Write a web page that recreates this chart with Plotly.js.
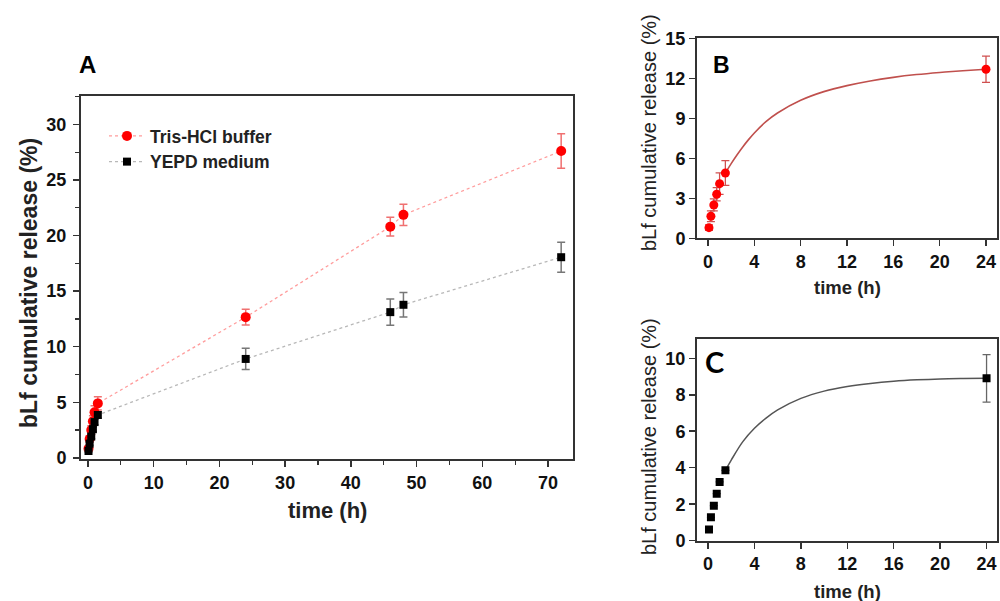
<!DOCTYPE html>
<html><head><meta charset="utf-8">
<script src="https://cdn.plot.ly/plotly-3.0.1.min.js"></script>
<style>html,body{margin:0;padding:0;background:#fff}#chart{width:1000px;height:601px}</style>
</head><body><div id="chart"></div>
<script>
// ---- data ----
const timeA = [0.083, 0.25, 0.5, 0.75, 1, 1.5, 24, 46, 48, 72];
const trisA = [0.83, 1.70, 2.50, 3.30, 4.10, 4.90, 12.66, 20.80, 21.86, 27.60];
const trisErrA = [0.2, 0.3, 0.4, 0.5, 0.6, 0.6, 0.7, 0.85, 0.95, 1.55];
const yepdA = [0.62, 1.28, 1.92, 2.58, 3.22, 3.86, 8.90, 13.11, 13.77, 18.05];
const yepdErrA = [0.1, 0.15, 0.2, 0.2, 0.25, 0.3, 0.96, 1.18, 1.1, 1.35];

const timeB = [0.083, 0.25, 0.5, 0.75, 1, 1.5, 24];
const trisB = [0.80, 1.65, 2.50, 3.30, 4.10, 4.90, 12.68];
const trisErrB = [0.2, 0.4, 0.45, 0.5, 0.8, 0.93, 0.98];
const fitTimeB = [1.5, 2, 2.5, 3, 3.5, 4, 5, 6, 8, 10, 12, 14, 16, 18, 20, 22, 24];
const fitB = [4.9, 5.6, 6.25, 6.85, 7.4, 7.9, 8.75, 9.4, 10.35, 11.0, 11.45, 11.8, 12.07, 12.28, 12.44, 12.57, 12.68];

const timeC = [0.083, 0.25, 0.5, 0.75, 1, 1.5, 24];
const yepdC = [0.62, 1.28, 1.92, 2.58, 3.22, 3.86, 8.90];
const yepdErrC = [0, 0, 0, 0, 0, 0, 1.3];
const fitTimeC = [1.5, 2, 3, 4, 5, 6, 8, 10, 12, 14, 16, 18, 20, 22, 24];
const fitC = [3.86, 4.42, 5.43, 6.16, 6.72, 7.17, 7.8, 8.2, 8.45, 8.62, 8.74, 8.82, 8.87, 8.89, 8.9];

const ticksAx = [0, 10, 20, 30, 40, 50, 60, 70];
const ticksAy = [0, 5, 10, 15, 20, 25, 30];
const ticksBCx = [0, 4, 8, 12, 16, 20, 24];
const ticksBy = [0, 3, 6, 9, 12, 15];
const ticksCy = [0, 2, 4, 6, 8, 10];

const legendNames = ["Tris-HCl buffer", "YEPD medium"];
const yTitle = "bLf cumulative release (%)";
const xTitle = "time (h)";

// ---- helpers ----
const W = 1000, H = 601;
const px = v => v / W, py = v => 1 - v / H;
const F = "Liberation Sans, Arial, sans-serif";
const bold = arr => arr.map(v => '<b>' + v + '</b>');

const traces = [
  {x: timeA, y: trisA, name: legendNames[0], type: 'scatter', mode: 'lines+markers', xaxis: 'x', yaxis: 'y',
   line: {color: '#ff9c9c', width: 1.3, dash: 'dot'},
   marker: {color: '#ff0000', size: 10, symbol: 'circle'},
   error_y: {type: 'data', array: trisErrA, visible: true, color: '#f07070', thickness: 1.5, width: 4}},
  {x: timeA, y: yepdA, name: legendNames[1], type: 'scatter', mode: 'lines+markers', xaxis: 'x', yaxis: 'y',
   line: {color: '#b8b8b8', width: 1.3, dash: 'dot'},
   marker: {color: '#000000', size: 8, symbol: 'square'},
   error_y: {type: 'data', array: yepdErrA, visible: true, color: '#777777', thickness: 1.5, width: 4}},
  {x: fitTimeB, y: fitB, type: 'scatter', mode: 'lines', xaxis: 'x2', yaxis: 'y2', showlegend: false,
   line: {color: '#c0504d', width: 1.6, shape: 'spline'}},
  {x: timeB, y: trisB, type: 'scatter', mode: 'markers', xaxis: 'x2', yaxis: 'y2', showlegend: false,
   marker: {color: '#ff0000', size: 9, symbol: 'circle'},
   error_y: {type: 'data', array: trisErrB, visible: true, color: '#d05050', thickness: 1.3, width: 4}},
  {x: fitTimeC, y: fitC, type: 'scatter', mode: 'lines', xaxis: 'x3', yaxis: 'y3', showlegend: false,
   line: {color: '#555555', width: 1.5, shape: 'spline'}},
  {x: timeC, y: yepdC, type: 'scatter', mode: 'markers', xaxis: 'x3', yaxis: 'y3', showlegend: false,
   marker: {color: '#000000', size: 8, symbol: 'square'},
   error_y: {type: 'data', array: yepdErrC, visible: true, color: '#666666', thickness: 1.3, width: 4}}
];

const tf = {family: F, size: 18, color: '#111', weight: 'bold'};
function ax(extra) {
  return Object.assign({
    showline: true, mirror: true, linecolor: '#333', linewidth: 2,
    ticks: 'outside', ticklen: 6, tickwidth: 1.5, tickcolor: '#333',
    showgrid: false, zeroline: false, fixedrange: true, tickmode: 'array',
    tickfont: tf
  }, extra);
}

const layout = {
  width: W, height: H, margin: {l: 0, r: 0, t: 0, b: 0},
  paper_bgcolor: '#fff', plot_bgcolor: '#fff', showlegend: true,
  xaxis: ax({domain: [px(81), px(573)], range: [-1.06, 73.8], tickvals: ticksAx, ticktext: bold(ticksAx), anchor: 'y',
    minor: {ticks: 'outside', ticklen: 4, tickwidth: 1.3, tickcolor: '#333', dtick: 5, tick0: 0}}),
  yaxis: ax({domain: [py(459), py(96)], range: [-0.1, 32.55], tickvals: ticksAy, ticktext: bold(ticksAy), anchor: 'x', ticklabelstandoff: 3,
    minor: {ticks: 'outside', ticklen: 4, tickwidth: 1.3, tickcolor: '#333', dtick: 2.5, tick0: 0}}),
  xaxis2: ax({domain: [px(697), px(997)], range: [-0.95, 24.95], tickvals: ticksBCx, ticktext: bold(ticksBCx), anchor: 'y2'}),
  yaxis2: ax({domain: [py(238.3), py(38.3)], range: [0, 15], tickvals: ticksBy, ticktext: bold(ticksBy), anchor: 'x2'}),
  xaxis3: ax({domain: [px(697), px(997)], range: [-0.95, 24.9], tickvals: ticksBCx, ticktext: bold(ticksBCx), anchor: 'y3'}),
  yaxis3: ax({domain: [py(540.7), py(339.3)], range: [0, 11.04], tickvals: ticksCy, ticktext: bold(ticksCy), anchor: 'x3'}),
  legend: {x: px(104), y: py(118), xanchor: 'left', yanchor: 'top', bgcolor: 'rgba(0,0,0,0)',
    itemwidth: 36, font: {family: F, size: 17.5, color: '#222', weight: 'bold'}, tracegroupgap: 0},
  annotations: [
    {text: '<b>A</b>', x: 87, y: 64, size: 24, color: '#000'},
    {text: '<b>B</b>', x: 721, y: 65, size: 23, color: '#000'},
    {text: '<b>C</b>', x: 714, y: 361, size: 29, color: '#000', family: 'Lato, sans-serif'},
    {text: '<b>' + yTitle + '</b>', x: 29, y: 283, angle: -90, size: 23},
    {text: '<b>' + xTitle + '</b>', x: 327, y: 510, size: 22},
    {text: yTitle, x: 649, y: 133, angle: -90, size: 20},
    {text: '<b>' + xTitle + '</b>', x: 847, y: 287, size: 18.5},
    {text: yTitle, x: 649, y: 437, angle: -90, size: 20},
    {text: '<b>' + xTitle + '</b>', x: 847, y: 591, size: 18.5}
  ].map(a => ({
    text: a.text, x: px(a.x), y: py(a.y), xref: 'paper', yref: 'paper', showarrow: false,
    xanchor: 'center', yanchor: 'middle', textangle: a.angle || 0,
    font: {family: a.family || F, size: a.size, color: a.color || '#222'}
  }))
};

Plotly.newPlot('chart', traces, layout, {staticPlot: true, displayModeBar: false});
</script></body></html>
